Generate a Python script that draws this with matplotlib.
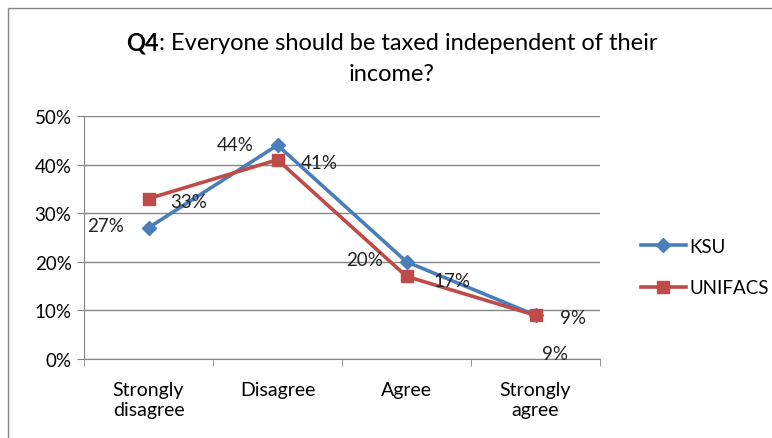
import matplotlib.pyplot as plt
from matplotlib.patches import Rectangle
from matplotlib.ticker import FuncFormatter

plt.rcParams['font.family'] = ['Lato', 'DejaVu Sans']

categories = ['Strongly\ndisagree', 'Disagree', 'Agree', 'Strongly\nagree']
ksu = [27, 44, 20, 9]
unifacs = [33, 41, 17, 9]
yticks = [0, 10, 20, 30, 40, 50]

blue = '#4a7ebb'
red = '#be4b48'
grid = '#868686'

fig = plt.figure(figsize=(7.72, 4.39), dpi=100)
ax = fig.add_axes([84 / 772, 1 - 360 / 439, 516 / 772, 243 / 439])

x = range(len(categories))
ax.plot(x, ksu, color=blue, lw=2.6, marker='D', ms=7, label='KSU', zorder=3)
ax.plot(x, unifacs, color=red, lw=2.6, marker='s', ms=8, label='UNIFACS', zorder=3)

# label offsets in pixels (dx, dy)
ksu_off = [(-43, 2), (-42, 1), (-42, 2), (19, -38)]
uni_off = [(40, -3), (42, -3), (45, -4), (37, -2)]
for i, (v, off) in enumerate(zip(ksu, ksu_off)):
    ax.annotate(f'{v}%', (i, v), xytext=off, textcoords='offset pixels',
                ha='center', va='center', fontsize=13.5, color='#222222')
for i, (v, off) in enumerate(zip(unifacs, uni_off)):
    ax.annotate(f'{v}%', (i, v), xytext=off, textcoords='offset pixels',
                ha='center', va='center', fontsize=13.5, color='#222222')

ax.set_xlim(-0.5, len(categories) - 0.5)
ax.set_ylim(0, 50)
ax.set_yticks(yticks)
ax.yaxis.set_major_formatter(FuncFormatter(lambda v, _: f'{v:.0f}%'))
ax.set_xticks(list(x))
ax.set_xticklabels(categories, fontsize=14, linespacing=1.2)
ax.set_xticks([i - 0.5 for i in range(len(categories) + 1)], minor=True)
ax.tick_params(axis='x', which='major', length=0, pad=16)
ax.tick_params(axis='x', which='minor', length=5, color=grid)
ax.tick_params(axis='y', length=5, color=grid, labelsize=13.5, pad=4)
ax.grid(axis='y', color=grid, lw=1)
ax.set_axisbelow(True)
for s in ['top', 'right']:
    ax.spines[s].set_visible(False)
for s in ['left', 'bottom']:
    ax.spines[s].set_color(grid)

fig.legend(loc='center left', bbox_to_anchor=(624 / 772, 1 - 268 / 439),
           frameon=False, fontsize=13.5, handlelength=2.4, labelspacing=1.3,
           handletextpad=0.2)

# outer chart frame
fig.patches.append(Rectangle((8 / 772, -0.1), 1.2, 1.1 - 9 / 439,
                             transform=fig.transFigure, fill=False,
                             edgecolor=grid, lw=1))

# two-part title: bold "Q4" then the question
t1 = fig.text(0, 1 - 43 / 439, 'Q4', fontsize=17, fontweight='bold', va='center')
t2 = fig.text(0, 1 - 43 / 439, ': Everyone should be taxed independent of their',
              fontsize=17, va='center')
fig.text(392 / 772, 1 - 75 / 439, 'income?', fontsize=17, ha='center', va='center')
fig.canvas.draw()
r = fig.canvas.get_renderer()
w1 = t1.get_window_extent(r).width
w2 = t2.get_window_extent(r).width
left = 392 - (w1 + w2) / 2
t1.set_x(left / 772)
t2.set_x((left + w1) / 772)

fig.savefig('out.png', dpi=100)
